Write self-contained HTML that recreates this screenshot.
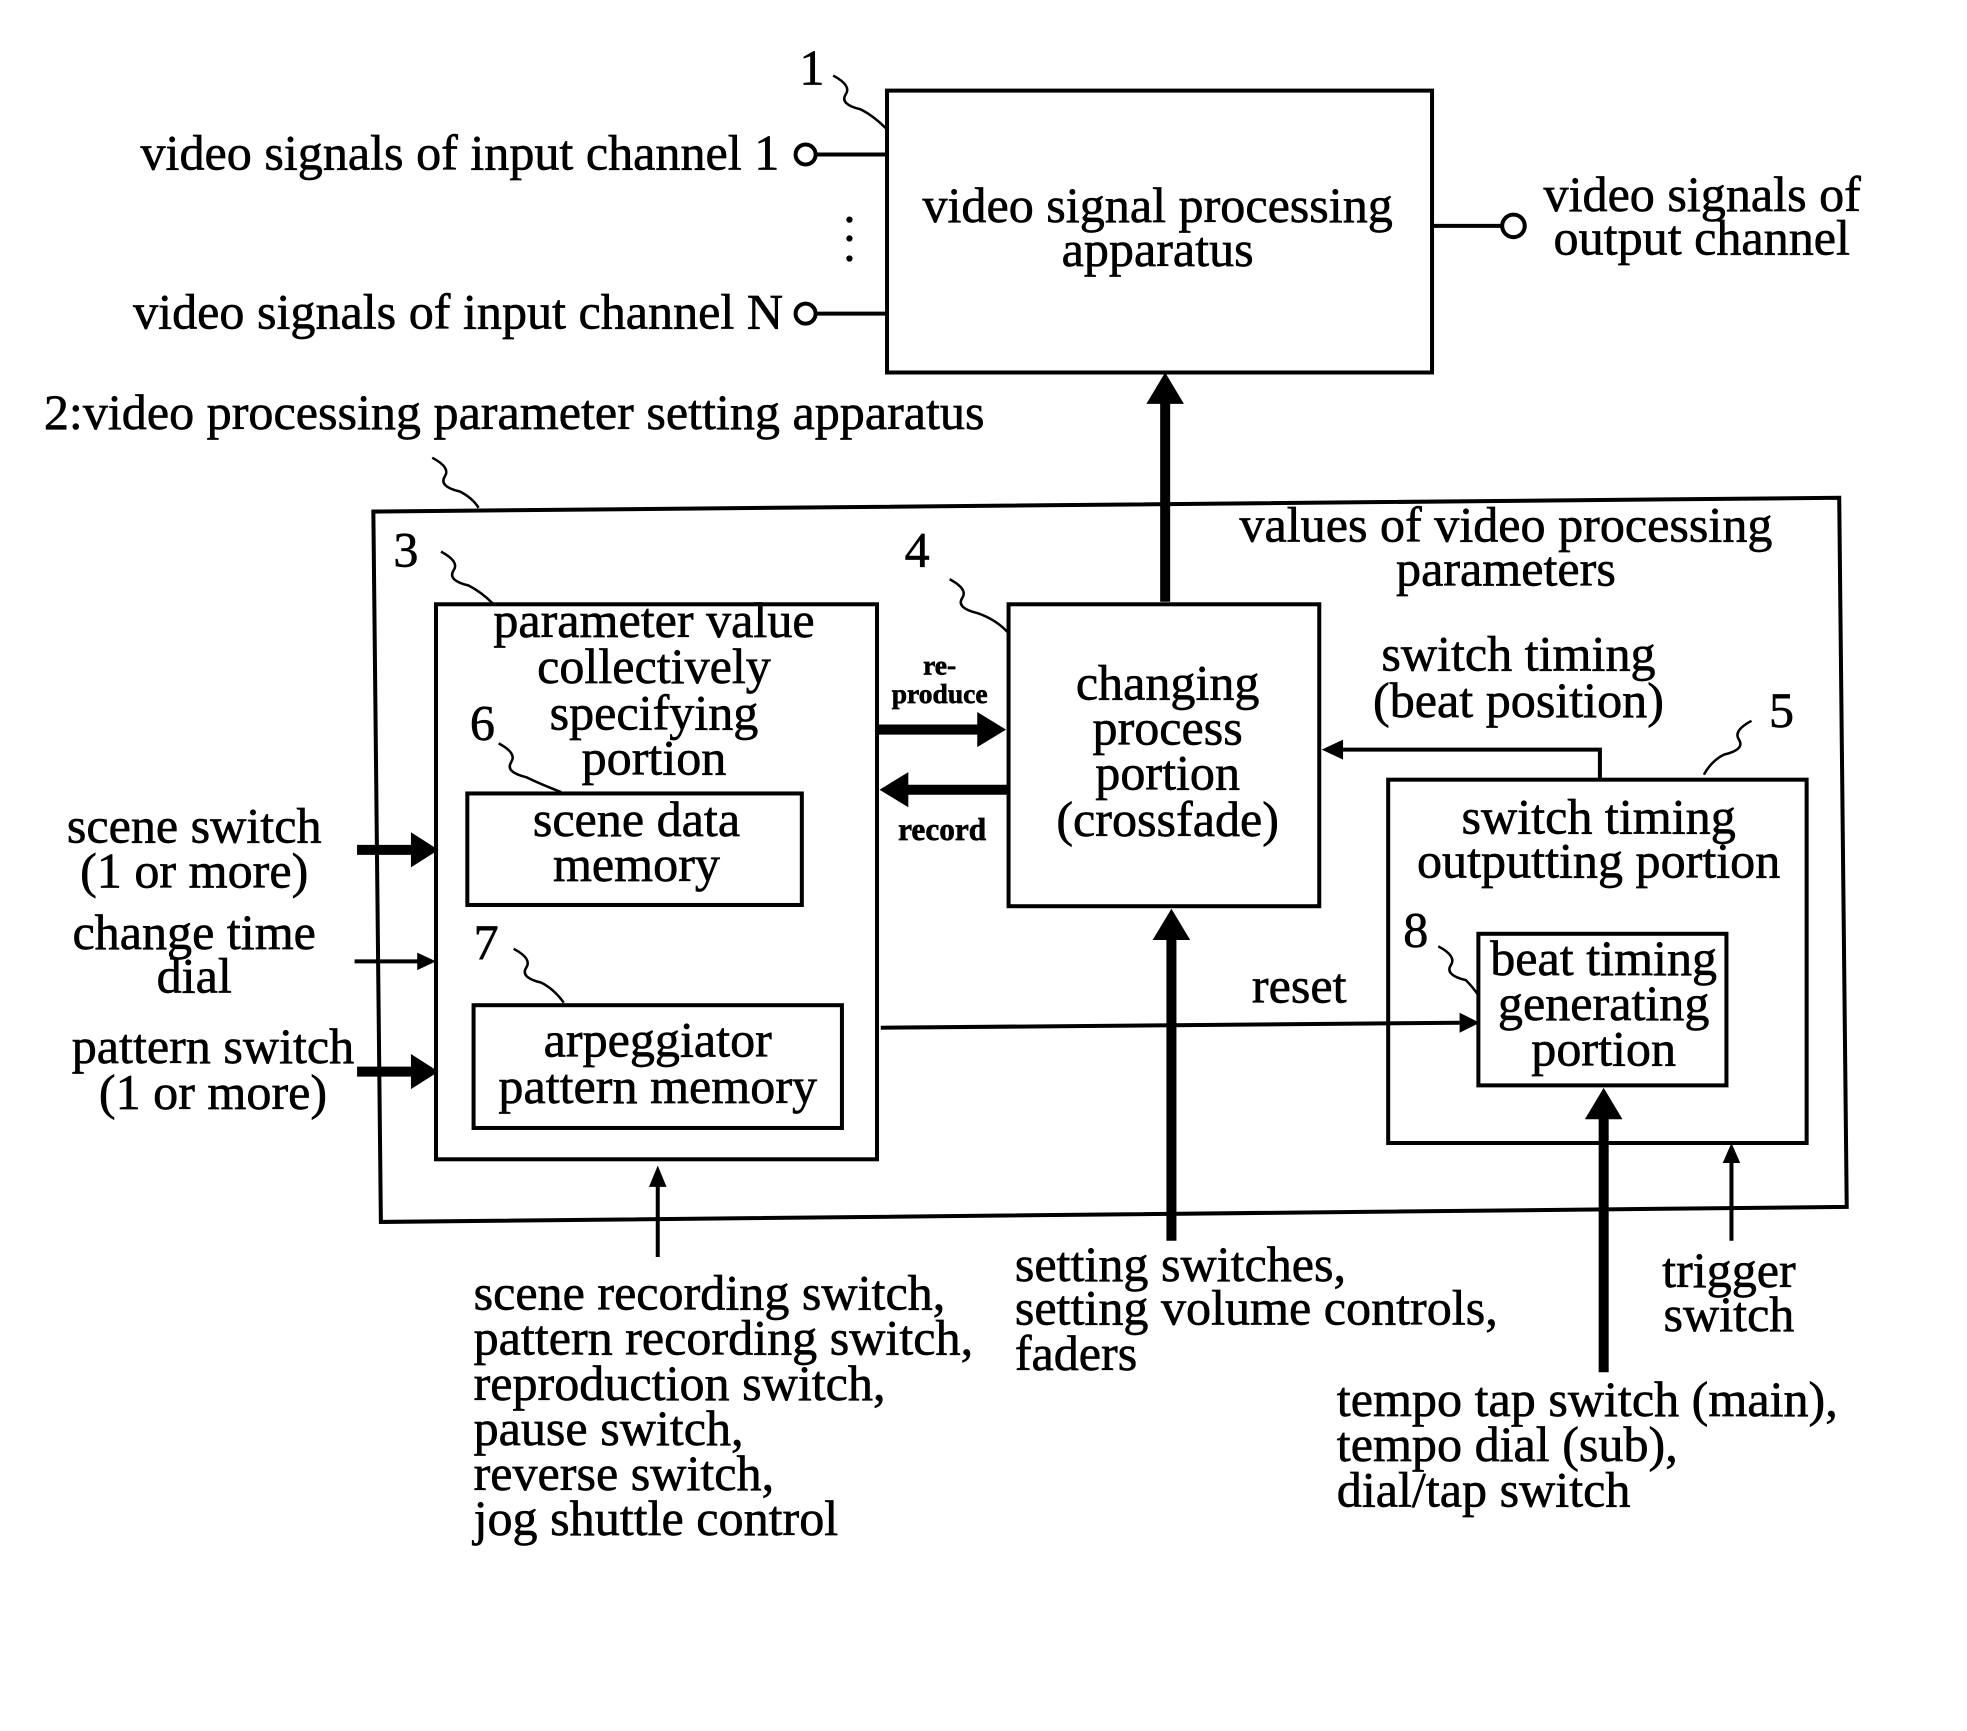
<!DOCTYPE html>
<html><head><style>
html,body{margin:0;padding:0;background:#fff;}
svg{display:block;}
text{font-family:"Liberation Serif",serif;font-size:40px;fill:#000;stroke:#000;stroke-width:0.5px;}
</style></head><body>
<svg width="1967" height="1731" viewBox="0 0 1570 1381" xmlns="http://www.w3.org/2000/svg">
<g fill="none" stroke="#000" stroke-width="3.2">
<rect x="708" y="72" width="435" height="225"/>
<polygon points="298,408 1468,397 1474,963 304,975"/>
<rect x="348" y="482" width="352" height="443"/>
<rect x="373" y="633" width="267" height="89"/>
<rect x="378" y="802" width="294" height="98"/>
<rect x="805" y="482" width="248" height="241"/>
<rect x="1108" y="622" width="334" height="290"/>
<rect x="1180" y="745" width="198" height="121"/>
<circle cx="643" cy="123" r="8"/><line x1="651" y1="123" x2="708" y2="123"/>
<circle cx="643" cy="250" r="8"/><line x1="651" y1="250" x2="708" y2="250"/>
<line x1="1143" y1="180" x2="1199" y2="180"/><circle cx="1208" cy="180" r="9"/>
<path d="M665,60 q15,8 10,15 q-5,8 12,12 q10,5 20,15" stroke-width="2"/>
<path d="M345,365 q15,8 10,15 q-5,8 12,12 q10,5 15,13" stroke-width="2"/>
<path d="M352,440 q15,8 10,15 q-5,8 12,12 q10,5 20,15" stroke-width="2"/>
<path d="M398,593 q15,8 10,15 q-5,8 12,12 q10,5 28,12" stroke-width="2"/>
<path d="M410,757 q15,8 10,15 q-5,8 12,12 q10,5 18,16" stroke-width="2"/>
<path d="M758,462 q15,8 10,15 q-5,8 12,12 q15,5 25,16" stroke-width="2"/>
<path d="M1398,575 q-15,8 -10,15 q5,8 -12,12 q-10,5 -16,16" stroke-width="2"/>
<path d="M1148,755 q15,8 10,15 q-5,8 12,12 q5,5 10,12" stroke-width="2"/>
<polyline points="1277,622 1277,598 1070,598"/>
<line x1="703" y1="820" x2="1165" y2="816"/>
<line x1="283" y1="767" x2="335" y2="767"/>
<line x1="525" y1="1003" x2="525" y2="945"/>
<line x1="1382" y1="990" x2="1382" y2="928"/>
</g>
<g stroke="#000" stroke-width="8" fill="none">
<line x1="930" y1="480" x2="930" y2="315"/>
<line x1="700" y1="582" x2="785" y2="582"/>
<line x1="805" y1="630" x2="720" y2="630"/>
<line x1="285" y1="678" x2="332" y2="678"/>
<line x1="285" y1="855" x2="332" y2="855"/>
<line x1="935" y1="990" x2="935" y2="745"/>
<line x1="1280" y1="1095" x2="1280" y2="888"/>
</g>
<g fill="#000">
<polygon points="915,322 945,322 930,297"/>
<polygon points="780,568 780,596 803,582"/>
<polygon points="725,616 725,644 702,630"/>
<polygon points="328,664 328,692 350,678"/>
<polygon points="328,841 328,869 350,855"/>
<polygon points="920,750 950,750 935,725"/>
<polygon points="1265,893 1295,893 1280,868"/>
<polygon points="1072,590 1072,606 1055,598"/>
<polygon points="1165,808 1165,824 1181,816"/>
<polygon points="333,760 333,774 348,767"/>
<polygon points="518,947 532,947 525,930"/>
<polygon points="1375,928 1389,928 1382,912"/>
<circle cx="678" cy="175" r="2.5"/><circle cx="678" cy="190" r="2.5"/><circle cx="678" cy="206" r="2.5"/>
</g>
<text x="622" y="135" text-anchor="end">video signals of input channel 1</text>
<text x="625" y="262" text-anchor="end">video signals of input channel N</text>
<text x="638" y="67">1</text>
<text x="924" y="177" text-anchor="middle">video signal processing</text>
<text x="924" y="212" text-anchor="middle">apparatus</text>
<text x="1232" y="168">video signals of</text>
<text x="1240" y="203">output channel</text>
<text x="35" y="342">2:video processing parameter setting apparatus</text>
<text x="1202" y="432" text-anchor="middle">values of video processing</text>
<text x="1202" y="467" text-anchor="middle">parameters</text>
<text x="314" y="452">3</text>
<text x="722" y="452">4</text>
<text x="1412" y="580">5</text>
<text x="375" y="590">6</text>
<text x="378" y="765">7</text>
<text x="1120" y="755">8</text>
<text x="522" y="508" text-anchor="middle">parameter value</text>
<text x="522" y="545" text-anchor="middle">collectively</text>
<text x="522" y="582" text-anchor="middle">specifying</text>
<text x="522" y="618" text-anchor="middle">portion</text>
<text x="508" y="667" text-anchor="middle">scene data</text>
<text x="508" y="703" text-anchor="middle">memory</text>
<text x="525" y="843" text-anchor="middle">arpeggiator</text>
<text x="525" y="880" text-anchor="middle">pattern memory</text>
<text x="932" y="558" text-anchor="middle">changing</text>
<text x="932" y="594" text-anchor="middle">process</text>
<text x="932" y="630" text-anchor="middle">portion</text>
<text x="932" y="667" text-anchor="middle">(crossfade)</text>
<text x="750" y="538" text-anchor="middle" style="font-size:22px;font-weight:bold">re-</text>
<text x="750" y="561" text-anchor="middle" style="font-size:22px;font-weight:bold">produce</text>
<text x="752" y="670" text-anchor="middle" style="font-size:25px;font-weight:bold">record</text>
<text x="1212" y="535" text-anchor="middle">switch timing</text>
<text x="1212" y="572" text-anchor="middle">(beat position)</text>
<text x="1276" y="665" text-anchor="middle">switch timing</text>
<text x="1276" y="700" text-anchor="middle">outputting portion</text>
<text x="1280" y="778" text-anchor="middle">beat timing</text>
<text x="1280" y="814" text-anchor="middle">generating</text>
<text x="1280" y="850" text-anchor="middle">portion</text>
<text x="1037" y="800" text-anchor="middle">reset</text>
<text x="155" y="672" text-anchor="middle">scene switch</text>
<text x="155" y="708" text-anchor="middle">(1 or more)</text>
<text x="155" y="757" text-anchor="middle">change time</text>
<text x="155" y="792" text-anchor="middle">dial</text>
<text x="170" y="848" text-anchor="middle">pattern switch</text>
<text x="170" y="885" text-anchor="middle">(1 or more)</text>
<text x="378" y="1045">scene recording switch,</text>
<text x="378" y="1081">pattern recording switch,</text>
<text x="378" y="1117">reproduction switch,</text>
<text x="378" y="1153">pause switch,</text>
<text x="378" y="1189">reverse switch,</text>
<text x="378" y="1225">jog shuttle control</text>
<text x="810" y="1022">setting switches,</text>
<text x="810" y="1057">setting volume controls,</text>
<text x="810" y="1093">faders</text>
<text x="1380" y="1027" text-anchor="middle">trigger</text>
<text x="1380" y="1062" text-anchor="middle">switch</text>
<text x="1067" y="1130">tempo tap switch (main),</text>
<text x="1067" y="1166">tempo dial (sub),</text>
<text x="1067" y="1202">dial/tap switch</text>
</svg>
</body></html>
